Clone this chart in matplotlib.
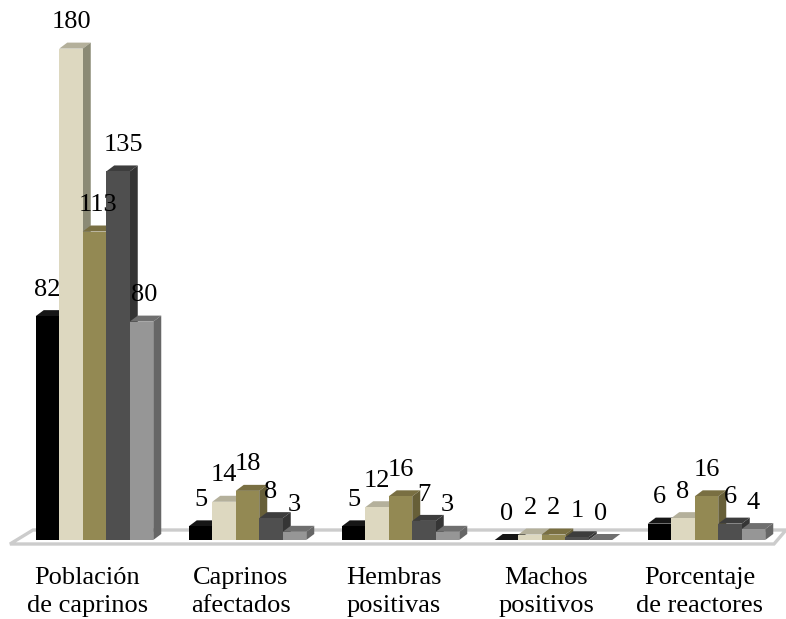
#!/usr/bin/env python3
import matplotlib

matplotlib.use("Agg")
import matplotlib.pyplot as plt
from matplotlib.patches import Polygon

categories = [
    "Población\nde caprinos",
    "Caprinos\nafectados",
    "Hembras\npositivas",
    "Machos\npositivos",
    "Porcentaje\nde reactores",
]
serie_a = [82, 5, 5, 0, 6]
serie_b = [180, 14, 12, 2, 8]
serie_c = [113, 18, 16, 2, 16]
serie_d = [135, 8, 7, 1, 6]
serie_e = [80, 3, 3, 0, 4]

front_colors = ["#000000", "#ddd8c0", "#938953", "#4f4f4f", "#969696"]
top_colors = ["#161616", "#b4b09b", "#796f42", "#3d3d3d", "#6f6f6f"]
side_colors = ["#101010", "#8b8a75", "#675f38", "#353535", "#666666"]

# pixel layout of the 786x619 picture
W, H = 786, 619
GROUP_STEP = 153.0
FIRST_CENTER = 94.5
BASE_Y = 540.0
PX_PER_UNIT = 2.73

# the first group's labels were moved by hand in the original (group, series): px
label_nudge = {(0, 2): 3.5, (0, 3): 5.5, (0, 4): 2.5}

plt.rcParams["font.family"] = ["Liberation Serif", "DejaVu Serif"]

fig = plt.figure(figsize=(W / 100, H / 100), dpi=100)
ax = fig.add_axes([0, 0, 1, 1])
ax.set_xlim(-FIRST_CENTER / GROUP_STEP, (W - FIRST_CENTER) / GROUP_STEP)
ax.set_ylim(-(H - BASE_Y) / PX_PER_UNIT, BASE_Y / PX_PER_UNIT)
ax.axis("off")

dx = 8.0 / GROUP_STEP
dy = 6.0 / PX_PER_UNIT
bar_w = 23.5 / GROUP_STEP


def px(x, y):
    return (x - FIRST_CENTER) / GROUP_STEP, (BASE_Y - y) / PX_PER_UNIT


# floor
floor = [px(10, 544), px(33, 530), px(786, 530), px(774, 544)]
ax.add_patch(Polygon(floor, closed=True, facecolor="white", edgecolor="#cccccc", linewidth=2.4, zorder=1))

series = [serie_a, serie_b, serie_c, serie_d, serie_e]
z = 2
for g in range(len(categories)):
    for s, values in enumerate(series):
        v = values[g]
        left = g + (s - 2.5) * bar_w
        right = left + bar_w
        top = [(left, v), (left + dx, v + dy), (right + dx, v + dy), (right, v)]
        side = [(right, 0), (right + dx, dy), (right + dx, v + dy), (right, v)]
        ax.add_patch(Polygon(top, closed=True, facecolor=top_colors[s], edgecolor="none", zorder=z))
        ax.add_patch(Polygon(side, closed=True, facecolor=side_colors[s], edgecolor="none", zorder=z))
        ax.bar(left, v, width=bar_w, align="edge", color=front_colors[s], linewidth=0, zorder=z + 0.5)
        z += 1

# value labels sit above the bars, drawn last since they overlap neighbours
for g in range(len(categories)):
    for s, values in enumerate(series):
        v = values[g]
        ax.annotate(
            str(v),
            (g + (s - 2) * bar_w, v),
            xytext=(label_nudge.get((g, s), 0) * 0.72, 19),
            textcoords="offset points",
            ha="center",
            va="center",
            fontsize=19,
            color="black",
            zorder=100,
        )

for g, label in enumerate(categories):
    ax.text(
        g - 7 / GROUP_STEP,
        (BASE_Y - 592) / PX_PER_UNIT,
        label,
        ha="center",
        va="center",
        fontsize=19,
        linespacing=1.38,
        color="black",
        zorder=100,
    )

fig.savefig("out.png", dpi=100)
